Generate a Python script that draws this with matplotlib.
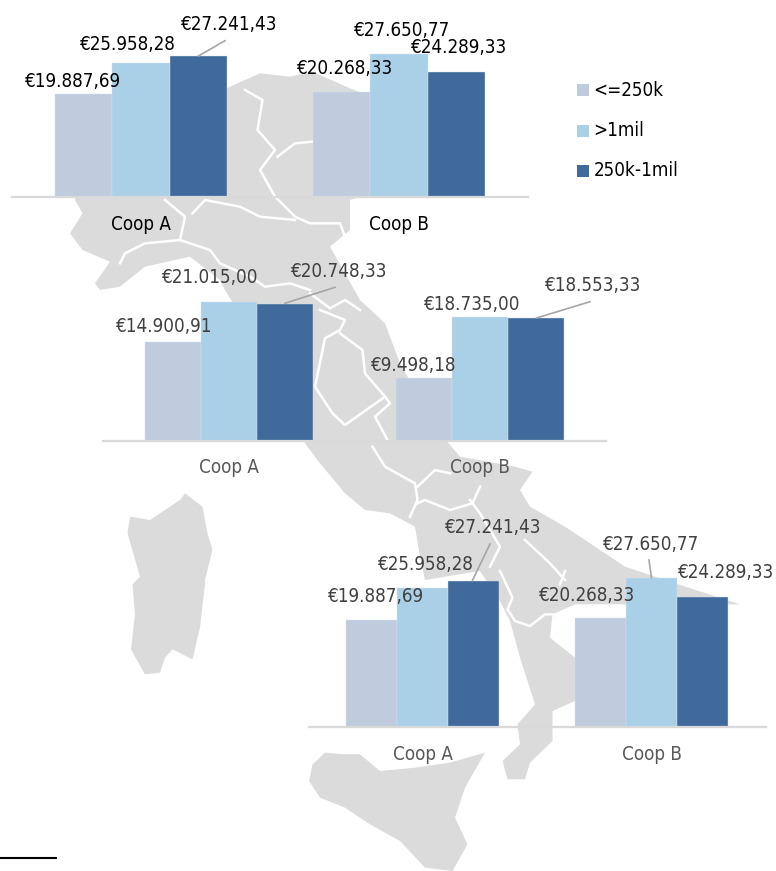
import matplotlib
matplotlib.use('Agg')
import matplotlib.pyplot as plt
from matplotlib.patches import Polygon

W, H = 776, 871

categories = ['Coop A', 'Coop B']
series = ['<=250k', '>1mil', '250k-1mil']
colors = ['#BFCCDE', '#AAD0E8', '#406A9B']

# values per series: [Coop A, Coop B]
north_small = [19887.69, 20268.33]
north_large = [25958.28, 27650.77]
north_mid = [27241.43, 24289.33]
centre_small = [14900.91, 9498.18]
centre_large = [21015.00, 18735.00]
centre_mid = [20748.33, 18553.33]
south_small = [19887.69, 20268.33]
south_large = [25958.28, 27650.77]
south_mid = [27241.43, 24289.33]


def zoomed(pts, y0):
    # traced on zoom crops: 2x wide, 3x tall
    return [(x / 2, y0 + y / 3) for x, y in pts]


# background map, traced by hand
mainland = (
    zoomed([(430, 280), (520, 220), (580, 230), (625, 215), (700, 265), (760, 300), (900, 500),
            (700, 600), (700, 690), (660, 740), (720, 900)], 0)
    + zoomed([(720, 60), (770, 130), (800, 250), (880, 460), (920, 530), (1030, 560), (1065, 575),
              (1040, 630), (1060, 680), (1130, 740), (1250, 860), (1330, 900)], 280)
    + zoomed([(1480, 100), (1300, 100), (1150, 100), (1105, 130), (1100, 200), (1150, 260), (1150, 390),
              (1105, 420), (1105, 510), (1060, 575), (1050, 625), (1015, 625), (1005, 570), (1040, 520),
              (1035, 460), (1070, 400), (1040, 260), (1020, 150), (1000, 90), (960, 0)], 571)
    + zoomed([(850, 900), (840, 830), (830, 740), (780, 700), (730, 690), (690, 640), (640, 550),
              (610, 490), (560, 300), (450, 30), (440, 0)], 280)
    + zoomed([(380, 770), (290, 800), (240, 860), (200, 870), (190, 850), (220, 785), (165, 750),
              (140, 700), (165, 640), (150, 600), (200, 400)], 0)
)
sardinia = (
    zoomed([(370, 640), (405, 680), (415, 760), (425, 810), (410, 900)], 280)
    + zoomed([(410, 40), (400, 170), (385, 265), (345, 235), (330, 260), (320, 305), (290, 310),
              (262, 235), (270, 130), (265, 40)], 571)
    + zoomed([(280, 890), (255, 760), (260, 710), (300, 720), (360, 660)], 280)
)
sicily = zoomed([(650, 545), (690, 550), (720, 550), (760, 600), (830, 590), (900, 575), (970, 545),
                 (930, 650), (910, 740), (935, 820), (905, 900), (850, 890), (800, 810), (740, 760),
                 (690, 710), (640, 680), (618, 630), (625, 580)], 571)
borders = [
    zoomed([(490, 270), (525, 300), (515, 390), (550, 450), (520, 510), (550, 590), (590, 650), (620, 670),
            (680, 670), (690, 710)], 0),
    zoomed([(555, 470), (590, 430), (625, 425)], 0),
    zoomed([(330, 600), (370, 650), (360, 720), (290, 730), (250, 760), (240, 790)], 0),
    zoomed([(385, 640), (410, 600), (480, 620), (520, 650), (590, 660)], 0),
    zoomed([(360, 720), (420, 750), (440, 790), (500, 830), (530, 860), (580, 850), (620, 870)], 0),
    zoomed([(620, 40), (660, 85), (690, 60), (720, 90)], 280),
    zoomed([(640, 90), (690, 120), (680, 150), (650, 175), (630, 320), (665, 400), (690, 435), (770, 350),
            (730, 280), (725, 210), (680, 160)], 280),
    zoomed([(770, 350), (780, 370), (750, 410), (775, 480)], 280),
    zoomed([(745, 500), (770, 560), (830, 610), (835, 660), (820, 710)], 280),
    zoomed([(835, 620), (870, 570), (900, 580)], 280),
    zoomed([(835, 670), (850, 660), (900, 690), (945, 670), (960, 620)], 280),
    zoomed([(940, 660), (960, 700), (1000, 800), (980, 860)], 280),
    zoomed([(1050, 780), (1100, 850), (1130, 900)], 280),
    zoomed([(1000, 0), (1025, 80), (1015, 115), (1030, 150), (1060, 165), (1090, 130), (1115, 130)], 571),
    zoomed([(1130, 0), (1120, 40)], 571),
]

label_font = dict(family='DejaVu Sans', stretch='condensed', fontsize=13.5)

fig = plt.figure(figsize=(W / 100, H / 100), dpi=100)

bg = fig.add_axes([0, 0, 1, 1], zorder=0)
bg.set_xlim(0, W)
bg.set_ylim(H, 0)
bg.axis('off')
for shape in (mainland, sardinia, sicily):
    bg.add_patch(Polygon(shape, closed=True, fc='#DBDBDB', ec='none'))
for line in borders:
    bg.plot(*zip(*line), color='white', lw=1.8, solid_joinstyle='round')

top = fig.add_axes([0, 0, 1, 1], zorder=5)
top.set_xlim(0, W)
top.set_ylim(H, 0)
top.axis('off')
top.patch.set_alpha(0)


def money(v):
    s = f"{v:,.2f}".replace(',', 'X').replace('.', ',').replace('X', '.')
    return '€' + s


def chart(values, left, right, base, per_unit, label_pos, cat_y, cat_color, text_color):
    ymax = 30000
    h = ymax * per_unit
    ax = fig.add_axes([left / W, 1 - base / H, (right - left) / W, h / H], zorder=2)
    ax.patch.set_alpha(0)
    width = 0.223
    for i, vals in enumerate(values):
        ax.bar([c + (i - 1) * width for c in range(2)], vals, width, color=colors[i],
               edgecolor='#D5E3F0', linewidth=0.3)
    ax.set_xlim(-0.5, 1.5)
    ax.set_ylim(0, ymax)
    ax.set_yticks([])
    ax.set_xticks([0, 1])
    ax.set_xticklabels([])
    ax.tick_params(length=0)
    for s in ('top', 'left', 'right'):
        ax.spines[s].set_visible(False)
    ax.spines['bottom'].set_color('#D9D9D9')
    ax.spines['bottom'].set_linewidth(1.6)
    for c, name in enumerate(categories):
        x = left + (right - left) * (c + 0.5) / 2
        top.text(x, cat_y, name, ha='center', va='center', color=cat_color, **label_font)
    flat = [values[i][c] for c in range(2) for i in range(3)]
    for v, (x, y) in zip(flat, label_pos):
        top.text(x, y, money(v), ha='center', va='center', color=text_color, **label_font)


def leader(x0, y0, x1, y1):
    bg_line = top.plot([x0, x1], [y0, y1], color='#A6A6A6', lw=1.2)
    return bg_line


chart([north_small, north_large, north_mid], 12, 528, 196.7, 0.005154,
      [(73, 81.7), (128, 44.5), (229, 24.5), (345, 69), (402, 30.7), (459, 47.7)],
      224, '#000000', '#000000')
chart([centre_small, centre_large, centre_mid], 103, 605.5, 441.3, 0.00664,
      [(164, 326.7), (210, 277.3), (339, 271.7), (414, 365.7), (472.5, 304), (593, 285.3)],
      467.7, '#595959', '#404040')
chart([south_small, south_large, south_mid], 308.5, 766, 726.7, 0.00536,
      [(376, 596.7), (426, 564), (493, 527.7), (587.5, 595), (651.5, 544), (726, 572.7)],
      754, '#595959', '#404040')

leader(225, 40.7, 198.5, 56)
leader(335, 287.3, 285, 303.3)
leader(590, 301.7, 536.5, 318)
leader(490, 544, 472.5, 580.3)
leader(649, 560, 651.5, 577.7)

# legend
for name, col, y in zip(series, colors, [90, 131, 171]):
    top.add_patch(plt.Rectangle((577, y - 6), 12, 12, fc=col, ec='none'))
    top.text(593.5, y, name, ha='left', va='center', color='#000000', **label_font)

# footnote rule
top.plot([0, 57], [857.7, 857.7], color='black', lw=1.5, solid_capstyle='butt')

fig.savefig('out.png', dpi=100)
